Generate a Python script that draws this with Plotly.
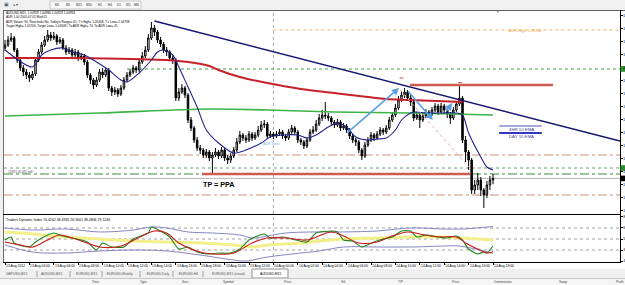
import plotly.graph_objects as go

W, H = 625, 285


def px(x):
    return x / W


def py(y):
    return 1 - y / H


FONT = "Liberation Sans, Arial, sans-serif"

# ---------------- data (AUDUSD M15, 13 Aug 02:00 -> 14 Aug 18:00) ----------------
bars = list(range(161))

opens = [
    1.05610, 1.05625, 1.05650, 1.05660, 1.05600, 1.05550, 1.05510, 1.05490, 1.05475, 1.05460,
    1.05480, 1.05550, 1.05590, 1.05625, 1.05650, 1.05675, 1.05660, 1.05670, 1.05640, 1.05650,
    1.05610, 1.05590, 1.05600, 1.05575, 1.05590, 1.05560, 1.05570, 1.05540, 1.05475, 1.05450,
    1.05425, 1.05450, 1.05490, 1.05475, 1.05500, 1.05410, 1.05390, 1.05400, 1.05380, 1.05410,
    1.05450, 1.05475, 1.05490, 1.05510, 1.05500, 1.05540, 1.05570, 1.05600, 1.05660, 1.05710,
    1.05690, 1.05650, 1.05630, 1.05600, 1.05590, 1.05560, 1.05550, 1.05360, 1.05390, 1.05410,
    1.05375, 1.05250, 1.05210, 1.05150, 1.05110, 1.05100, 1.05075, 1.05090, 1.05060, 1.05075,
    1.05090, 1.05070, 1.05100, 1.05060, 1.05050, 1.05070, 1.05100, 1.05140, 1.05175, 1.05160,
    1.05150, 1.05180, 1.05160, 1.05175, 1.05200, 1.05225, 1.05230, 1.05170, 1.05180, 1.05170,
    1.05180, 1.05190, 1.05170, 1.05160, 1.05190, 1.05210, 1.05190, 1.05150, 1.05140, 1.05120,
    1.05150, 1.05190, 1.05200, 1.05230, 1.05260, 1.05275, 1.05270, 1.05260, 1.05240, 1.05225,
    1.05240, 1.05210, 1.05220, 1.05200, 1.05170, 1.05150, 1.05140, 1.05100, 1.05070, 1.05125,
    1.05150, 1.05175, 1.05160, 1.05180, 1.05200, 1.05190, 1.05210, 1.05250, 1.05275, 1.05310,
    1.05350, 1.05375, 1.05390, 1.05360, 1.05340, 1.05260, 1.05275, 1.05250, 1.05270, 1.05290,
    1.05280, 1.05300, 1.05320, 1.05290, 1.05320, 1.05300, 1.05280, 1.05260, 1.05300, 1.05330,
    1.05360, 1.05150, 1.05090, 1.05050, 1.04900, 1.04925, 1.04950, 1.04900, 1.04875, 1.04925,
    1.04950]

closes = [
    1.05625, 1.05650, 1.05660, 1.05600, 1.05550, 1.05510, 1.05490, 1.05475, 1.05460, 1.05480,
    1.05550, 1.05590, 1.05625, 1.05650, 1.05675, 1.05660, 1.05670, 1.05640, 1.05650, 1.05610,
    1.05590, 1.05600, 1.05575, 1.05590, 1.05560, 1.05570, 1.05540, 1.05475, 1.05450, 1.05425,
    1.05450, 1.05490, 1.05475, 1.05500, 1.05410, 1.05390, 1.05400, 1.05380, 1.05410, 1.05450,
    1.05475, 1.05490, 1.05510, 1.05500, 1.05540, 1.05570, 1.05600, 1.05660, 1.05710, 1.05690,
    1.05650, 1.05630, 1.05600, 1.05590, 1.05560, 1.05550, 1.05360, 1.05390, 1.05410, 1.05375,
    1.05250, 1.05210, 1.05150, 1.05110, 1.05100, 1.05075, 1.05090, 1.05060, 1.05075, 1.05090,
    1.05070, 1.05100, 1.05060, 1.05050, 1.05070, 1.05100, 1.05140, 1.05175, 1.05160, 1.05150,
    1.05180, 1.05160, 1.05175, 1.05200, 1.05225, 1.05230, 1.05170, 1.05180, 1.05170, 1.05180,
    1.05190, 1.05170, 1.05160, 1.05190, 1.05210, 1.05190, 1.05150, 1.05140, 1.05120, 1.05150,
    1.05190, 1.05200, 1.05230, 1.05260, 1.05275, 1.05270, 1.05260, 1.05240, 1.05225, 1.05240,
    1.05210, 1.05220, 1.05200, 1.05170, 1.05150, 1.05140, 1.05100, 1.05070, 1.05125, 1.05150,
    1.05175, 1.05160, 1.05180, 1.05200, 1.05190, 1.05210, 1.05250, 1.05275, 1.05310, 1.05350,
    1.05375, 1.05390, 1.05360, 1.05340, 1.05260, 1.05275, 1.05250, 1.05270, 1.05290, 1.05280,
    1.05300, 1.05320, 1.05290, 1.05320, 1.05300, 1.05280, 1.05260, 1.05300, 1.05330, 1.05360,
    1.05150, 1.05090, 1.05050, 1.04900, 1.04925, 1.04950, 1.04900, 1.04875, 1.04925, 1.04950,
    1.04958]

highs = [
    1.05650, 1.05670, 1.05685, 1.05670, 1.05610, 1.05560, 1.05525, 1.05505, 1.05490, 1.05495,
    1.05560, 1.05605, 1.05640, 1.05670, 1.05700, 1.05690, 1.05690, 1.05680, 1.05665, 1.05660,
    1.05625, 1.05615, 1.05610, 1.05605, 1.05600, 1.05585, 1.05580, 1.05550, 1.05485, 1.05460,
    1.05465, 1.05505, 1.05510, 1.05515, 1.05510, 1.05420, 1.05415, 1.05410, 1.05425, 1.05465,
    1.05490, 1.05505, 1.05525, 1.05520, 1.05555, 1.05590, 1.05620, 1.05680, 1.05740, 1.05725,
    1.05700, 1.05665, 1.05640, 1.05615, 1.05600, 1.05575, 1.05560, 1.05410, 1.05430, 1.05420,
    1.05385, 1.05265, 1.05220, 1.05165, 1.05125, 1.05110, 1.05105, 1.05100, 1.05090, 1.05110,
    1.05100, 1.05115, 1.05110, 1.05075, 1.05085, 1.05115, 1.05160, 1.05195, 1.05185, 1.05175,
    1.05195, 1.05190, 1.05190, 1.05220, 1.05245, 1.05250, 1.05240, 1.05195, 1.05190, 1.05195,
    1.05205, 1.05200, 1.05180, 1.05205, 1.05225, 1.05220, 1.05200, 1.05160, 1.05150, 1.05165,
    1.05205, 1.05220, 1.05250, 1.05280, 1.05300, 1.05340, 1.05285, 1.05270, 1.05250, 1.05255,
    1.05250, 1.05235, 1.05230, 1.05210, 1.05180, 1.05160, 1.05150, 1.05110, 1.05140, 1.05165,
    1.05190, 1.05185, 1.05195, 1.05215, 1.05210, 1.05225, 1.05265, 1.05290, 1.05330, 1.05370,
    1.05395, 1.05410, 1.05400, 1.05375, 1.05350, 1.05290, 1.05285, 1.05285, 1.05305, 1.05300,
    1.05315, 1.05335, 1.05330, 1.05335, 1.05330, 1.05310, 1.05290, 1.05315, 1.05345, 1.05430,
    1.05370, 1.05170, 1.05100, 1.05060, 1.04950, 1.04985, 1.04965, 1.04910, 1.04945, 1.04970,
    1.04980]

lows = [
    1.05595, 1.05615, 1.05640, 1.05590, 1.05535, 1.05495, 1.05470, 1.05455, 1.05440, 1.05450,
    1.05470, 1.05540, 1.05580, 1.05615, 1.05640, 1.05645, 1.05650, 1.05625, 1.05630, 1.05600,
    1.05575, 1.05580, 1.05560, 1.05565, 1.05545, 1.05550, 1.05525, 1.05460, 1.05430, 1.05405,
    1.05415, 1.05440, 1.05460, 1.05465, 1.05395, 1.05370, 1.05375, 1.05365, 1.05370, 1.05400,
    1.05440, 1.05465, 1.05480, 1.05485, 1.05490, 1.05530, 1.05560, 1.05590, 1.05650, 1.05670,
    1.05635, 1.05615, 1.05585, 1.05570, 1.05545, 1.05530, 1.05345, 1.05345, 1.05380, 1.05360,
    1.05235, 1.05195, 1.05135, 1.05095, 1.05080, 1.05060, 1.05060, 1.05045, 1.04975, 1.05065,
    1.05055, 1.05060, 1.05045, 1.05030, 1.05035, 1.05060, 1.05090, 1.05130, 1.05145, 1.05135,
    1.05140, 1.05145, 1.05150, 1.05165, 1.05190, 1.05210, 1.05155, 1.05160, 1.05155, 1.05160,
    1.05170, 1.05155, 1.05145, 1.05150, 1.05180, 1.05175, 1.05135, 1.05125, 1.05105, 1.05110,
    1.05140, 1.05180, 1.05190, 1.05220, 1.05245, 1.05255, 1.05245, 1.05225, 1.05210, 1.05215,
    1.05195, 1.05200, 1.05185, 1.05155, 1.05135, 1.05120, 1.05085, 1.05050, 1.05060, 1.05115,
    1.05140, 1.05145, 1.05150, 1.05170, 1.05175, 1.05180, 1.05200, 1.05240, 1.05265, 1.05300,
    1.05340, 1.05360, 1.05345, 1.05320, 1.05245, 1.05250, 1.05210, 1.05240, 1.05260, 1.05265,
    1.05270, 1.05290, 1.05275, 1.05280, 1.05285, 1.05260, 1.05230, 1.05250, 1.05290, 1.05320,
    1.05135, 1.05040, 1.05000, 1.04880, 1.04880, 1.04900, 1.04870, 1.04810, 1.04860, 1.04900,
    1.04929]

# 10 EMA (navy), sampled
ema_bars = [0, 9, 12, 15, 19, 22, 26, 30, 34, 38, 40, 44, 48, 50, 52, 55, 57, 60, 63, 66,
            70, 75, 79, 84, 87, 91, 96, 99, 102, 106, 109, 112, 115, 119, 122, 125, 128, 130,
            133, 135, 138, 143, 148, 150, 152, 156, 158, 160]
ema_vals = [1.05600, 1.05515, 1.05575, 1.05600, 1.05610, 1.05590, 1.05575, 1.05540, 1.05500,
            1.05450, 1.05440, 1.05485, 1.05550, 1.05590, 1.05600, 1.05575, 1.05515, 1.05415,
            1.05315, 1.05200, 1.05135, 1.05085, 1.05100, 1.05135, 1.05165, 1.05175, 1.05175,
            1.05160, 1.05175, 1.05215, 1.05235, 1.05215, 1.05165, 1.05150, 1.05155, 1.05160,
            1.05200, 1.05250, 1.05285, 1.05290, 1.05285, 1.05285, 1.05285, 1.05275, 1.05185,
            1.05065, 1.05015, 1.05000]

# 4HR 10 EMA (red)
red_ma_bars = [0, 20, 42, 53, 60, 67, 70, 77, 86, 97, 108, 119, 125, 133, 150]
red_ma_vals = [1.05560, 1.05560, 1.05555, 1.05550, 1.05540, 1.05520, 1.05500, 1.05465,
               1.05435, 1.05405, 1.05385, 1.05365, 1.05355, 1.05350, 1.05340]

# DAY 10 EMA (green)
green_ma_bars = [0, 31, 67, 86, 108, 133, 160]
green_ma_vals = [1.05270, 1.05285, 1.05305, 1.05300, 1.05290, 1.05285, 1.05275]

# down trend line
trend_bars = [49, 201.6]
trend_vals = [1.05745, 1.05145]

# price levels
adr_high = 1.05700
green_level_hi = 1.05505
red_zone_hi = 1.05425
dashdot_levels = [1.05075, 1.04875]
green_level_lo = 1.05010
order_level = 1.04980
tp_level = 1.04980
bid_price = 1.04958

price_ticks = [1.04800, 1.04865, 1.04930, 1.04995, 1.05060, 1.05125, 1.05190, 1.05255,
               1.05320, 1.05385, 1.05450, 1.05515, 1.05580, 1.05645, 1.05710, 1.05775]
price_tick_text = "1."   # only the leading "1." is visible at the window edge

# Traders Dynamic Index
tdi_upper_bars = [0, 9, 20, 31, 42, 48, 53, 60, 68, 77, 81, 86, 92, 101, 111, 122, 133, 144, 150, 160]
tdi_upper = [68.0, 64.7, 66.4, 61.5, 64.7, 69.6, 68.0, 61.5, 59.8, 56.5, 51.6, 54.9, 59.8,
             61.5, 61.5, 63.1, 68.0, 66.4, 66.4, 70.4]
tdi_lower_bars = [0, 9, 20, 31, 42, 53, 64, 75, 79, 86, 97, 103, 111, 122, 133, 144, 149, 160]
tdi_lower = [40.2, 28.7, 27.1, 30.4, 32.0, 30.4, 23.8, 15.6, 14.0, 20.5, 27.1, 30.4, 36.9,
             36.9, 36.9, 38.5, 38.5, 26.6]
tdi_mid_bars = [0, 9, 20, 31, 42, 53, 64, 75, 81, 86, 97, 103, 111, 122, 133, 144, 150, 160]
tdi_mid = [61.5, 58.2, 53.3, 50.0, 46.7, 45.1, 43.5, 40.2, 36.9, 40.2, 43.5, 46.7, 50.0,
           51.6, 53.3, 53.3, 51.6, 48.5]
tdi_rsi_bars = [0, 2, 3, 8, 10, 14, 16, 19, 22, 27, 30, 32, 35, 39, 42, 47, 48, 51, 54, 57,
                60, 63, 66, 70, 74, 77, 80, 85, 87, 91, 94, 99, 102, 107, 109, 111, 114, 117,
                121, 124, 127, 130, 133, 135, 138, 142, 145, 148, 150, 152, 155, 157, 158, 160]
tdi_rsi = [48.4, 53.3, 43.5, 36.9, 45.1, 56.5, 59.8, 54.9, 51.6, 45.1, 32.0, 43.5, 36.9,
           36.9, 50.0, 59.8, 69.6, 63.1, 53.3, 33.6, 36.9, 28.7, 25.5, 27.1, 27.1, 33.6,
           48.4, 58.2, 51.6, 53.3, 50.0, 45.1, 59.8, 63.1, 61.5, 48.4, 46.7, 36.9, 45.1,
           50.0, 53.3, 63.1, 63.1, 53.3, 56.5, 53.3, 51.6, 54.9, 48.4, 33.6, 25.5, 28.7,
           27.1, 38.5]
tdi_sig_bars = [0, 5, 9, 14, 18, 22, 27, 31, 38, 43, 49, 53, 57, 64, 68, 75, 81, 86, 92, 99,
                107, 111, 116, 122, 126, 132, 136, 142, 148, 151, 155, 158, 160]
tdi_sig = [45.1, 40.2, 36.9, 48.4, 56.5, 51.6, 43.5, 36.9, 38.5, 50.0, 63.1, 59.8, 43.5,
           28.7, 25.5, 27.1, 43.5, 51.6, 51.6, 48.4, 61.5, 54.9, 43.5, 45.1, 53.3, 61.5,
           58.2, 53.3, 53.3, 43.5, 33.6, 27.1, 29.1]
tdi_levels = [68, 50, 32]
tdi_ticks = [86.2, 68, 50, 32, 13.9]
tdi_tick_text = ["8", "6", "5", "3", "1"]   # leading digit, as cut by the window edge

time_label_bars = [0, 8, 16, 24, 32, 40, 48, 56, 64, 72, 80, 88, 96, 104, 112, 120, 128,
                   136, 144, 152, 160]
time_labels = ["13 Aug 2012", "13 Aug 04:00", "13 Aug 06:00", "13 Aug 08:00", "13 Aug 10:00",
               "13 Aug 12:00", "13 Aug 14:00", "13 Aug 16:00", "13 Aug 18:00", "13 Aug 20:00",
               "13 Aug 22:00", "14 Aug 00:00", "14 Aug 02:00", "14 Aug 04:00", "14 Aug 06:00",
               "14 Aug 08:00", "14 Aug 10:00", "14 Aug 12:00", "14 Aug 14:00", "14 Aug 16:00",
               "14 Aug 18:00"]
day_separator_bar = 88

info_lines = [
    "AUDUSD,M15  1.04929 1.04980 1.04929 1.04958",
    "ADR 1.00 2005.07.01 Mod 01",
    "ADR Values: 90, Reached= No, Today's Range= 61, T's High= 1.05408, T's Low= 1.04798",
    "Target High= 1.05700, Target Low= 1.04508 / To ADR High= 74, To ADR Low= 45",
]
tdi_title = "Traders Dynamic Index 70.4242 48.4931 26.5601 38.4806 29.1246"
tab_names = ["GBPUSD,M15", "AUDUSD,M15", "EURUSD,M15", "EURUSD,Weekly", "EURUSD,Daily",
             "EURUSD,H4", "EURUSD,M15 (visual)", "AUDUSD,M15"]
col_headers = ["Time", "Type", "Size", "Symbol", "Price", "S/L", "T/P", "Price",
               "Commission", "Swap", "Profit"]
tf_buttons = ["M1", "M5", "M15", "M30", "H1", "H4", "D1", "W1", "MN"]

# arrows (tail -> head) in bar / price units
arrows = [((111.8, 1.05180), (129.2, 1.05410)),
          ((131.8, 1.05400), (140.3, 1.05250)),
          ((144.3, 1.05285), (146.6, 1.05335))]

# ---------------- figure ----------------
XR = [-0.328, 201.64]
fig = go.Figure()

fig.add_trace(go.Candlestick(
    x=bars, open=opens, high=highs, low=lows, close=closes,
    xaxis="x", yaxis="y",
    increasing=dict(line=dict(color="#000000", width=1), fillcolor="#ffffff"),
    decreasing=dict(line=dict(color="#000000", width=1), fillcolor="#000000"),
    whiskerwidth=0, showlegend=False, hoverinfo="skip"))

fig.add_trace(go.Scatter(x=green_ma_bars, y=green_ma_vals, mode="lines",
                         line=dict(color="#3cb446", width=1.6, shape="spline"),
                         xaxis="x", yaxis="y", showlegend=False, hoverinfo="skip"))
fig.add_trace(go.Scatter(x=red_ma_bars, y=red_ma_vals, mode="lines",
                         line=dict(color="#c8202a", width=2, shape="spline"),
                         xaxis="x", yaxis="y", showlegend=False, hoverinfo="skip"))
fig.add_trace(go.Scatter(x=ema_bars, y=ema_vals, mode="lines",
                         line=dict(color="#23238e", width=1.1, shape="spline", smoothing=0.8),
                         xaxis="x", yaxis="y", showlegend=False, hoverinfo="skip"))
fig.add_trace(go.Scatter(x=trend_bars, y=trend_vals, mode="lines",
                         line=dict(color="#161670", width=1.5),
                         xaxis="x", yaxis="y", showlegend=False, hoverinfo="skip"))

# TDI
fig.add_trace(go.Scatter(x=tdi_mid_bars, y=tdi_mid, mode="lines",
                         line=dict(color="#f4ef8a", width=3, shape="spline"),
                         xaxis="x2", yaxis="y2", showlegend=False, hoverinfo="skip"))
for bx, vals in ((tdi_upper_bars, tdi_upper), (tdi_lower_bars, tdi_lower)):
    fig.add_trace(go.Scatter(x=bx, y=vals, mode="lines",
                             line=dict(color="#8686c4", width=1, shape="spline"),
                             xaxis="x2", yaxis="y2", showlegend=False, hoverinfo="skip"))
fig.add_trace(go.Scatter(x=tdi_rsi_bars, y=tdi_rsi, mode="lines",
                         line=dict(color="#1a861a", width=1.1, shape="spline", smoothing=0.6),
                         xaxis="x2", yaxis="y2", showlegend=False, hoverinfo="skip"))
fig.add_trace(go.Scatter(x=tdi_sig_bars, y=tdi_sig, mode="lines",
                         line=dict(color="#c81818", width=1.1, shape="spline"),
                         xaxis="x2", yaxis="y2", showlegend=False, hoverinfo="skip"))

shapes = []


def pline(x0, y0, x1, y1, color, width=1, dash=None, layer="above"):
    d = dict(color=color, width=width)
    if dash:
        d["dash"] = dash
    shapes.append(dict(type="line", xref="paper", yref="paper", x0=px(x0), y0=py(y0),
                       x1=px(x1), y1=py(y1), line=d, layer=layer))


def prect(x0, y0, x1, y1, fill, line=None, layer="below"):
    shapes.append(dict(type="rect", xref="paper", yref="paper", x0=px(x0), y0=py(y0),
                       x1=px(x1), y1=py(y1), fillcolor=fill,
                       line=dict(width=1 if line else 0, color=line or fill), layer=layer))


def hline(price, b0, b1, color, width=1, dash=None, layer="below"):
    d = dict(color=color, width=width)
    if dash:
        d["dash"] = dash
    shapes.append(dict(type="line", xref="x", yref="y", x0=b0, x1=b1, y0=price, y1=price,
                       line=d, layer=layer))


# window chrome
prect(0, 0, 625, 10, "#f0f0f0")
prect(50, 1, 141, 9, "#f7f7f7", "#c8c8c8")
prect(0, 10, 3, 270, "#f0f0f0")
prect(0, 269, 625, 278, "#f0f0f0")
prect(252, 269, 288, 278, "#ffffff", "#909090")
prect(0, 278, 625, 285, "#f5f5f5")
pline(0, 278.5, 625, 278.5, "#c8c8c8")
for sx in [37, 70, 102, 140, 173, 203]:
    pline(sx, 271, sx, 277, "#a0a0a0")

# chart frame
pline(3.5, 10, 3.5, 263, "#707070")
pline(3, 10.5, 625, 10.5, "#606060")
pline(3, 214.5, 620, 214.5, "#000000")
pline(3, 262.5, 620, 262.5, "#000000")
pline(620.5, 10, 620.5, 263, "#000000")

# period separator
shapes.append(dict(type="line", xref="x", yref="paper", x0=day_separator_bar, x1=day_separator_bar,
                   y0=py(262), y1=py(11), line=dict(color="#a8a8a8", width=1, dash="dot"),
                   layer="below"))

# price levels
hline(adr_high, day_separator_bar, XR[1], "#f2b866", 1, "dot")
hline(green_level_hi, 40, XR[1], "#4a9a4a", 1, "dot")
for lv in dashdot_levels:
    hline(lv, XR[0], XR[1], "#c8907c", 1, "dashdot")
hline(green_level_lo, XR[0], XR[1], "#6f9f6f", 1, "dot")
hline(order_level, XR[0], XR[1], "#3c8c3c", 1, "dashdot")
hline(bid_price, XR[0], XR[1], "#b4b4b4", 1)
hline(tp_level, 64.6, 152.5, "#cf5a50", 2.6, layer="above")
hline(red_zone_hi, 132.8, 179.7, "#cf5a50", 2.6, layer="above")
hline(1.05460, 129.4, 130.6, "#d04040", 1, layer="above")
hline(1.05437, 148.6, 149.8, "#d04040", 1, layer="above")
shapes.append(dict(type="line", xref="x", yref="y", x0=129.5, y0=1.05400, x1=152.5, y1=1.05010,
                   line=dict(color="#e6a2a2", width=1, dash="dot"), layer="above"))

# EMA legend bars
hline(1.05220, 162, 176, "#a8a8dc", 2, layer="above")
hline(1.05185, 162, 176, "#3636c0", 2, layer="above")

# axis price boxes
for lv, col in ((green_level_hi, "#2e8b2e"), (green_level_lo, "#2e8b2e"), (bid_price, "#000000")):
    shapes.append(dict(type="rect", xref="paper", yref="y", x0=px(620.5), x1=1.0,
                       y0=lv - 0.00014, y1=lv + 0.00014, fillcolor=col,
                       line=dict(width=0), layer="above"))

# TDI levels
for lv in tdi_levels:
    shapes.append(dict(type="line", xref="x2", yref="y2", x0=XR[0], x1=XR[1], y0=lv, y1=lv,
                       line=dict(color="#a0a0a0", width=1, dash="dot"), layer="below"))

annotations = []


def ptext(x, y, text, size=3.4, color="#000000", xanchor="left"):
    annotations.append(dict(xref="paper", yref="paper", x=px(x), y=py(y), text=text,
                            showarrow=False, xanchor=xanchor, yanchor="middle",
                            font=dict(family=FONT, size=size, color=color), borderpad=0))


def dtext(b, price, text, size=3.6, color="#000000", xanchor="left"):
    annotations.append(dict(xref="x", yref="y", x=b, y=price, text=text, showarrow=False,
                            xanchor=xanchor, yanchor="middle",
                            font=dict(family=FONT, size=size, color=color), borderpad=0))


for k, ln in enumerate(info_lines):
    ptext(5, 13.3 + k * 4.1, ln, size=3.1)
ptext(5, 219.5, tdi_title, size=3.5)

# right price scale labels
for pt in price_ticks:
    annotations.append(dict(xref="paper", yref="y", x=px(621.6), y=pt, text=price_tick_text,
                            showarrow=False, xanchor="left", yanchor="middle",
                            font=dict(family=FONT, size=4.0, color="#000000"), borderpad=0))

for b, lab in zip(time_label_bars, time_labels):
    annotations.append(dict(xref="x2", yref="paper", x=b, y=py(265.8), text=lab,
                            showarrow=False, xanchor="left", yanchor="middle",
                            font=dict(family=FONT, size=3.4, color="#000000"), borderpad=0))

tab_centers = [16.5, 51.5, 86, 120, 158.5, 188, 228, 270]
for k, (cx, name) in enumerate(zip(tab_centers, tab_names)):
    ptext(cx, 274, name, size=3.3, color="#000000" if k == len(tab_names) - 1 else "#505050",
          xanchor="center")
hdr_x = [95, 143, 185, 228, 287, 343, 400, 455, 503, 563]
for cx, name in zip(hdr_x, col_headers[:-1]):
    ptext(cx, 281.8, name, size=3.2, color="#404040", xanchor="center")
ptext(624.5, 281.8, col_headers[-1], size=3.2, color="#404040", xanchor="right")
tf_x = [57, 68, 79, 89, 100, 110, 119, 128, 136]
for cx, name in zip(tf_x, tf_buttons):
    ptext(cx, 4.5, name, size=3.1, color="#303030", xanchor="center")
ptext(2.5, 4.5, "\u25a3", size=4.5, color="#506070")
ptext(11, 4.5, "\u2198 \u25be", size=4, color="#404040")
ptext(497, 11.8, "\u25bc", size=3.5, color="#808080", xanchor="center")

dtext(165.0, adr_high - 0.00006, "ADR High: 1.05700", size=3.8, color="#e8a040")
dtext(64.6, 1.04928, "<b>TP = PPA</b>", size=7.2, color="#000000")
dtext(0.6, 1.04992, "#2871 (0.05) sell", size=3.3, color="#404040")
dtext(84.4, 1.05132, "ADR Start", size=3.7, color="#7fb2e5")
dtext(169.3, 1.05203, "4HR 10 EMA", size=4.3, color="#3a3a90", xanchor="center")
dtext(169.3, 1.05168, "DAY 10 EMA", size=4.3, color="#3a3a90", xanchor="center")

for (tx, ty), (hx, hy) in arrows:
    annotations.append(dict(xref="x", yref="y", axref="x", ayref="y", x=hx, y=hy, ax=tx, ay=ty,
                            text="", showarrow=True, arrowhead=2, arrowsize=0.9,
                            arrowwidth=1.6, arrowcolor="#5a9fe0", standoff=0))

fig.update_layout(
    template="none",
    width=W, height=H,
    margin=dict(l=0, r=0, t=0, b=0, pad=0),
    paper_bgcolor="#ffffff",
    plot_bgcolor="rgba(0,0,0,0)",
    showlegend=False,
    hovermode=False,
    boxgap=0.3,
    font=dict(family=FONT, size=4, color="#000000"),
    xaxis=dict(domain=[px(4), px(620)], range=XR, anchor="y", showgrid=False, zeroline=False,
               showticklabels=False, ticks="", showline=False, automargin=False,
               rangeslider=dict(visible=False), fixedrange=True),
    yaxis=dict(domain=[py(213), py(11)], range=[1.04785, 1.05795], anchor="x", side="right",
               showgrid=False, zeroline=False, ticks="outside", ticklen=1.5, tickcolor="#000000",
               tickmode="array", tickvals=price_ticks, showticklabels=False,
               showline=False, automargin=False, fixedrange=True),
    xaxis2=dict(domain=[px(4), px(620)], range=XR, anchor="y2", showgrid=False, zeroline=False,
                showticklabels=False, tickmode="array", tickvals=time_label_bars,
                ticks="outside", ticklen=2, tickcolor="#000000", showline=False,
                automargin=False, fixedrange=True),
    yaxis2=dict(domain=[py(262), py(216)], range=[12.4, 87.6], anchor="x2", side="right",
                showgrid=False, zeroline=False, ticks="outside", ticklen=1.5, tickcolor="#000000",
                tickmode="array", tickvals=tdi_ticks, ticktext=tdi_tick_text,
                tickfont=dict(family=FONT, size=4.0, color="#000000"),
                showline=False, automargin=False, fixedrange=True),
    shapes=shapes,
    annotations=annotations,
)

fig.write_html("out.html")
